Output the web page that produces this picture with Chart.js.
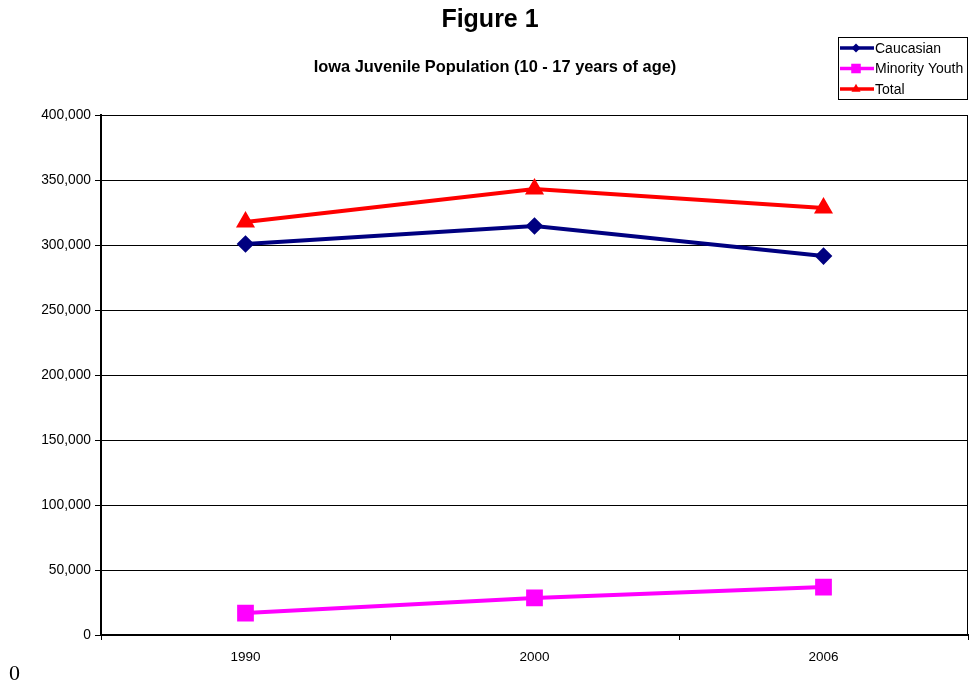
<!DOCTYPE html>
<html>
<head>
<meta charset="utf-8">
<script src="https://cdn.jsdelivr.net/npm/chart.js@4/dist/chart.umd.min.js"></script>
<style>
  html, body { margin: 0; padding: 0; background: #fff; }
  #wrap { position: relative; width: 974px; height: 688px; }
  #corner { position: absolute; left: 9px; top: 660px; font: 22px "Liberation Serif", serif; color: #000; }
</style>
</head>
<body>
<div id="wrap">
  <canvas id="pop-chart" width="974" height="688"></canvas>
  <div id="corner">0</div>
</div>
<script>
const years = ['1990', '2000', '2006'];
const caucasian = [300800, 314600, 291500];
const minorityYouth = [16900, 28500, 36900];
const total = [317700, 343100, 328400];
const yTicks = [0, 50000, 100000, 150000, 200000, 250000, 300000, 350000, 400000];

const FONT = '"Liberation Sans", Arial, sans-serif';

const data = {
  labels: years,
  datasets: [{
    label: 'Caucasian',
    data: caucasian,
    borderColor: '#000080',
    backgroundColor: '#000080',
    borderWidth: 4,
    pointStyle: 'rectRot',
    pointRadius: 6,
    tension: 0,
  }, {
    label: 'Minority Youth',
    data: minorityYouth,
    borderColor: '#ff00ff',
    backgroundColor: '#ff00ff',
    borderWidth: 4,
    pointStyle: 'rect',
    pointRadius: 9,
    tension: 0,
  }, {
    label: 'Total',
    data: total,
    borderColor: '#ff0000',
    backgroundColor: '#ff0000',
    borderWidth: 4,
    pointStyle: 'triangle',
    pointRadius: 7,
    tension: 0,
  }]
};

// titles, boxed legend and plot frame
const decorations = {
  id: 'decorations',
  afterDraw(chart) {
    const ctx = chart.ctx;
    const area = chart.chartArea;
    ctx.save();
    ctx.fillStyle = '#000';
    ctx.textAlign = 'center';
    ctx.textBaseline = 'alphabetic';
    ctx.font = 'bold 25px ' + FONT;
    ctx.fillText('Figure 1', 490, 27);
    ctx.font = 'bold 16.4px ' + FONT;
    ctx.fillText('Iowa Juvenile Population (10 - 17 years of age)', 495, 72);

    // right frame edge
    ctx.strokeStyle = '#000';
    ctx.lineWidth = 1;
    ctx.beginPath();
    ctx.moveTo(area.right - 0.5, area.top);
    ctx.lineTo(area.right - 0.5, area.bottom);
    ctx.stroke();

    // legend
    const lx = 838, ly = 37, lw = 130, lh = 63;
    ctx.fillStyle = '#fff';
    ctx.fillRect(lx, ly, lw, lh);
    ctx.strokeRect(lx + 0.5, ly + 0.5, lw - 1, lh - 1);
    ctx.font = '14px ' + FONT;
    ctx.textAlign = 'left';
    ctx.textBaseline = 'middle';
    chart.data.datasets.forEach((ds, i) => {
      const y = ly + 11 + i * 20.5;
      ctx.strokeStyle = ds.borderColor;
      ctx.lineWidth = 3.5;
      ctx.beginPath();
      ctx.moveTo(lx + 2, y);
      ctx.lineTo(lx + 36, y);
      ctx.stroke();
      ctx.fillStyle = ds.backgroundColor;
      Chart.helpers.drawPoint(ctx, {pointStyle: ds.pointStyle, radius: ds.pointRadius * 0.75, borderWidth: 0}, lx + 18, y);
      ctx.fillStyle = '#000';
      ctx.fillText(ds.label, lx + 37, y + 1);
    });
    ctx.restore();
  }
};

const config = {
  type: 'line',
  data: data,
  options: {
    responsive: false,
    animation: false,
    layout: {
      autoPadding: false,
      padding: { top: 115, right: 6, left: 0, bottom: 0 }
    },
    plugins: {
      legend: { display: false },
      title: { display: false },
      tooltip: { enabled: false },
    },
    scales: {
      x: {
        offset: true,
        grid: {
          offset: true,
          drawOnChartArea: false,
          color: '#000',
          tickLength: 5,
        },
        border: { color: '#000', width: 2 },
        ticks: {
          color: '#000',
          padding: 9,
          font: { family: FONT, size: 13.5 },
          maxRotation: 0,
        },
        afterFit: (scale) => { scale.height = 53; },
      },
      y: {
        min: 0,
        max: 400000,
        afterBuildTicks: (scale) => { scale.ticks = yTicks.map(v => ({ value: v })); },
        grid: { color: '#000', lineWidth: 1, tickLength: 6 },
        border: { color: '#000', width: 2 },
        ticks: {
          color: '#000',
          padding: 4,
          font: { family: FONT, size: 13.8 },
          callback: (v) => v.toLocaleString('en-US'),
        },
        afterFit: (scale) => { scale.width = 101; },
      }
    }
  },
  plugins: [decorations]
};

const ctx = document.getElementById('pop-chart');

new Chart(ctx, config);
</script>
</body>
</html>
